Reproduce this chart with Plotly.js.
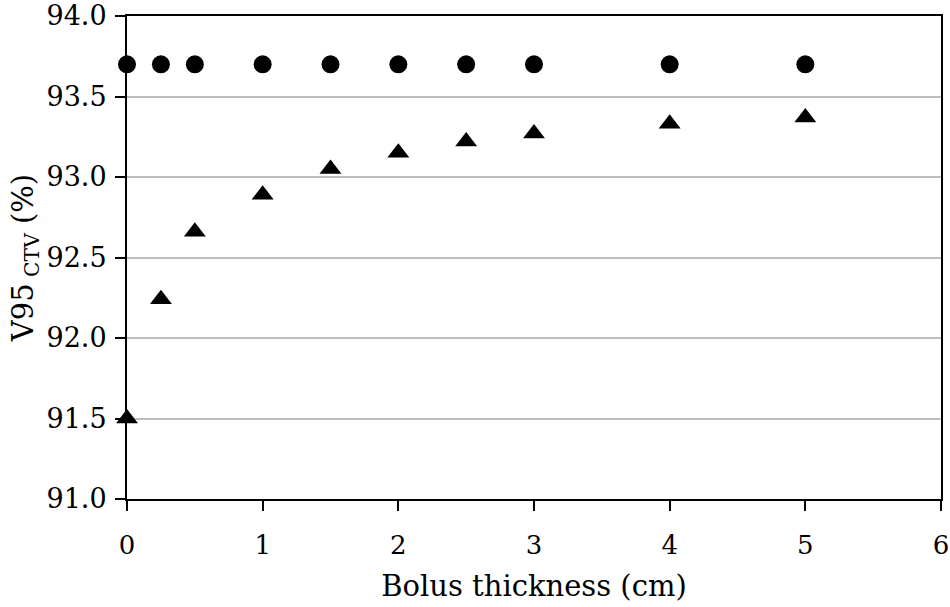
<!DOCTYPE html>
<html>
<head>
<meta charset="utf-8">
<script src="https://cdn.plot.ly/plotly-3.0.1.min.js"></script>
<style>html,body{margin:0;padding:0;background:#fff;}#chart{width:950px;height:607px;}</style>
</head>
<body>
<div id="chart"></div>
<script>
var circleX = [0, 0.25, 0.5, 1, 1.5, 2, 2.5, 3, 4, 5];
var circleY = [93.7, 93.7, 93.7, 93.7, 93.7, 93.7, 93.7, 93.7, 93.7, 93.7];
var triangleX = [0, 0.25, 0.5, 1, 1.5, 2, 2.5, 3, 4, 5];
var triangleY = [91.5, 92.24, 92.66, 92.89, 93.05, 93.15, 93.22, 93.27, 93.33, 93.37];
var yTickVals = [91.0, 91.5, 92.0, 92.5, 93.0, 93.5, 94.0];
var yTickText = ["91.0", "91.5", "92.0", "92.5", "93.0", "93.5", "94.0"];
var xTickVals = [0, 1, 2, 3, 4, 5, 6];

var fontFam = "DejaVu Serif, serif";

var traces = [
  {x: circleX, y: circleY, mode: "markers", type: "scatter",
   marker: {symbol: "circle", size: 18, color: "#000"}, cliponaxis: false, showlegend: false},
  {x: triangleX, y: triangleY, mode: "markers", type: "scatter",
   marker: {symbol: "triangle-up", size: 19, color: "#000"}, cliponaxis: false, showlegend: false}
];

var layout = {
  width: 950, height: 607,
  margin: {l: 127, r: 9, t: 16, b: 108},
  paper_bgcolor: "#fff", plot_bgcolor: "#fff",
  font: {family: fontFam, size: 27, color: "#000"},
  xaxis: {
    range: [0, 6], tickvals: xTickVals, ticktext: xTickVals.map(String),
    showgrid: false, zeroline: false,
    showline: true, linecolor: "#000", linewidth: 2, mirror: true,
    ticks: "outside", ticklen: 10, tickwidth: 2, tickcolor: "#000",
    ticklabelstandoff: 12, ticklabeloverflow: "allow",
    tickfont: {family: fontFam, size: 26, color: "#000"},
    title: {text: "Bolus thickness (cm)", font: {family: fontFam, size: 29, color: "#000"}, standoff: 16}
  },
  yaxis: {
    range: [91.0, 94.0], tickvals: yTickVals, ticktext: yTickText,
    showgrid: true, gridcolor: "#bdbdbd", gridwidth: 2, zeroline: false,
    showline: true, linecolor: "#000", linewidth: 2, mirror: true,
    ticks: "outside", ticklen: 10, tickwidth: 2, tickcolor: "#000",
    ticklabelstandoff: 3, ticklabeloverflow: "allow",
    tickfont: {family: fontFam, size: 27, color: "#000"},
    title: {text: "V95<sub> CTV</sub> (%)", font: {family: fontFam, size: 29, color: "#000"}, standoff: 4}
  }
};

Plotly.newPlot("chart", traces, layout, {displayModeBar: false, staticPlot: true});
</script>
</body>
</html>
